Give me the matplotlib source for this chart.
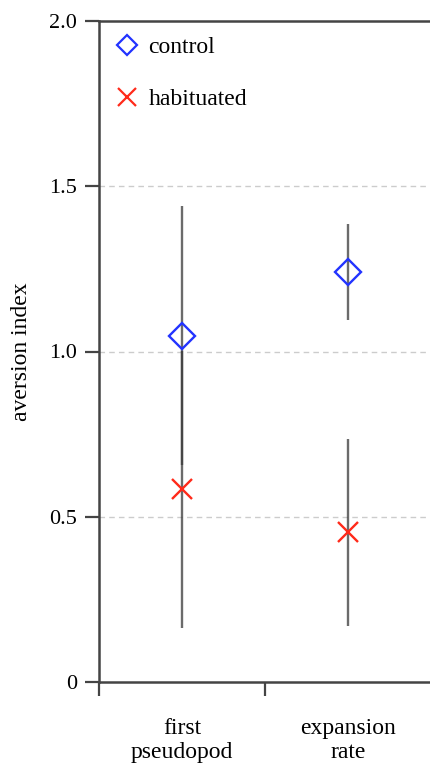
import matplotlib
matplotlib.use("Agg")
import matplotlib.pyplot as plt

plt.rcParams["font.family"] = ["Liberation Serif", "DejaVu Serif"]

# data
categories = ["first\npseudopod", "expansion\nrate"]
control_mean = [1.048, 1.240]
control_err = [0.392, 0.145]
habituated_mean = [0.583, 0.453]
habituated_err = [0.419, 0.283]
y_ticks = [0, 0.5, 1.0, 1.5, 2.0]
y_tick_labels = ["0", "0.5", "1.0", "1.5", "2.0"]

SPINE = "#444444"
BAR = "#3a3a3a"

fig = plt.figure(figsize=(4.30, 7.64), dpi=100)
# axes run past the right edge of the figure, as in the cropped original
ax = fig.add_axes([99 / 430, 82 / 764, 2.4 * 166 / 430, 661 / 764])

xpos = [i + 0.5 for i in range(len(categories))]

ax.errorbar(xpos, control_mean, yerr=control_err, fmt="none",
            ecolor=BAR, elinewidth=1.7, alpha=0.75, capsize=0, zorder=2)
ax.errorbar(xpos, habituated_mean, yerr=habituated_err, fmt="none",
            ecolor=BAR, elinewidth=1.7, alpha=0.75, capsize=0, zorder=2)

ax.plot(xpos, control_mean, linestyle="none", marker="D", markersize=13,
        markerfacecolor="none", markeredgecolor="#2233ff",
        markeredgewidth=1.7, zorder=3)
ax.plot(xpos, habituated_mean, linestyle="none", marker="x", markersize=15,
        markeredgecolor="#ff2a1a", markeredgewidth=1.7, zorder=3)

# legend
ax.plot([], [], linestyle="none", marker="D", markersize=10,
        markerfacecolor="none", markeredgecolor="#2233ff",
        markeredgewidth=1.6, label="control")
ax.plot([], [], linestyle="none", marker="x", markersize=13,
        markeredgecolor="#ff2a1a", markeredgewidth=1.6, label="habituated")
ax.legend(loc="upper left", bbox_to_anchor=(0.003, 1.0), frameon=False,
          fontsize=17, handlelength=1.0, handletextpad=0.4,
          labelspacing=1.3, borderaxespad=0.25)

ax.set_xlim(0, 2.4)
ax.set_ylim(0, 2.0)

ax.set_yticks(y_ticks)
ax.set_yticklabels(y_tick_labels, fontsize=16)
for y in y_ticks[1:-1]:
    ax.axhline(y, color="#cccccc", linestyle=(0, (4, 3)), linewidth=1.0,
               zorder=1)

ax.set_xticks([0, 1])
ax.set_xticklabels([])
ax.set_xticks(xpos, minor=True)
ax.set_xticklabels(categories, minor=True, fontsize=17, linespacing=1.2)
ax.tick_params(axis="x", which="minor", length=0, pad=26)
ax.tick_params(axis="both", which="major", length=10, width=1.6,
               color=SPINE, direction="out")
ax.tick_params(axis="y", pad=6)

ax.set_ylabel("aversion index", fontsize=17, labelpad=12)

for side in ["left", "bottom", "top"]:
    ax.spines[side].set_color(SPINE)
    ax.spines[side].set_linewidth(1.8)
ax.spines["right"].set_visible(False)

fig.savefig("out.png", dpi=100)
